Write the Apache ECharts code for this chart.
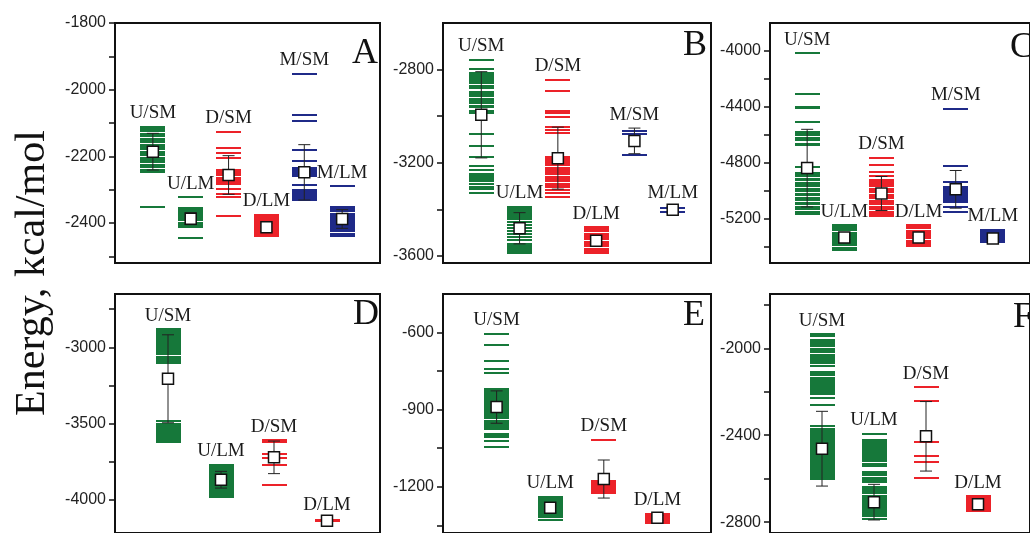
<!DOCTYPE html>
<html>
<head>
<meta charset="utf-8">
<script src="https://cdn.jsdelivr.net/npm/echarts@6/dist/echarts.min.js"></script>
<style>
  html, body { margin: 0; padding: 0; background: #fff; }
  #chart { width: 1030px; height: 533px; }
</style>
</head>
<body>
<div id="chart"></div>
<script>
// Category names (panels D-F use the first four)
const categories = ['U/SM', 'U/LM', 'D/SM', 'D/LM', 'M/SM', 'M/LM'];

// ---- Panel A: individual energies, mean and standard deviation per category
const levelsA = [
  [-2111,-2115,-2119,-2123,-2132,-2136,-2140,-2149,-2153,-2157,-2166,-2170,-2174,-2178,-2187,-2191,-2195,-2204,-2208,-2212,-2216,-2225,-2229,-2233,-2242,-2246,-2352],
  [-2323,-2356,-2360,-2364,-2368,-2372,-2376,-2380,-2384,-2388,-2392,-2401,-2405,-2409,-2413,-2445],
  [-2127,-2175,-2190,-2205,-2240,-2244,-2248,-2252,-2256,-2264,-2268,-2272,-2276,-2280,-2284,-2298,-2312,-2323,-2378],
  [-2376,-2380,-2384,-2388,-2392,-2396,-2404,-2408,-2412,-2416,-2420,-2428,-2432,-2436,-2440],
  [-1952,-2077,-2095,-2180,-2214,-2236,-2240,-2244,-2248,-2252,-2256,-2260,-2285,-2300,-2304,-2310,-2316,-2320,-2326,-2330],
  [-2290,-2352,-2356,-2360,-2364,-2372,-2376,-2380,-2384,-2388,-2392,-2396,-2404,-2408,-2412,-2416,-2420,-2424,-2432,-2436,-2440]
];
const meansA = [-2186, -2387, -2256, -2413, -2248, -2388];
const sdA = [55, 18, 58, 12, 83, 28];
const ticksA = [-1800, -1900, -2000, -2100, -2200, -2300, -2400, -2500];
const tickLabelsA = [-1800, -2000, -2200, -2400];

// ---- Panel B
const levelsB = [
  [-2757,-2796,-2814,-2820,-2826,-2832,-2838,-2844,-2850,-2856,-2869,-2875,-2881,-2894,-2900,-2906,-2912,-2925,-2931,-2937,-2943,-2956,-2962,-2976,-2986,-3077,-3130,-3176,-3213,-3230,-3247,-3253,-3259,-3265,-3271,-3277,-3290,-3302,-3313,-3328],
  [-3388,-3394,-3400,-3406,-3412,-3418,-3424,-3430,-3436,-3442,-3452,-3465,-3478,-3491,-3504,-3517,-3530,-3548,-3554,-3560,-3566,-3572,-3578,-3584,-3588],
  [-2843,-2890,-2979,-2988,-3003,-3046,-3058,-3070,-3173,-3179,-3185,-3191,-3197,-3203,-3209,-3222,-3228,-3234,-3240,-3246,-3259,-3265,-3271,-3277,-3290,-3296,-3302,-3316,-3330,-3345],
  [-3476,-3482,-3488,-3494,-3507,-3513,-3519,-3525,-3538,-3544,-3550,-3556,-3569,-3575,-3581,-3587],
  [-3062,-3078,-3168],
  [-3393,-3411]
];
const meansB = [-2994, -3481, -3180, -3534, -3106, -3402];
const sdB = [185, 67, 133, 10, 55, 14];
const ticksB = [-2800, -3000, -3200, -3400, -3600];
const tickLabelsB = [-2800, -3200, -3600];

// ---- Panel C
const levelsC = [
  [-4017,-4311,-4400,-4412,-4508,-4580,-4590,-4600,-4622,-4632,-4642,-4664,-4674,-4832,-4876,-4886,-4896,-4918,-4928,-4950,-4960,-4970,-4992,-5002,-5024,-5034,-5056,-5066,-5088,-5098,-5120,-5130,-5152,-5166],
  [-5250,-5260,-5270,-5280,-5302,-5312,-5322,-5332,-5342,-5352,-5362,-5372,-5382,-5392,-5414,-5424],
  [-4766,-4815,-4868,-4893,-4925,-4935,-4945,-4955,-4965,-4990,-5000,-5010,-5032,-5042,-5052,-5074,-5084,-5094,-5116,-5126,-5136,-5158,-5168,-5180],
  [-5250,-5260,-5270,-5292,-5302,-5312,-5322,-5332,-5342,-5364,-5374,-5384,-5396],
  [-4415,-4828,-4936,-4972,-4982,-4992,-5002,-5012,-5022,-5032,-5042,-5052,-5062,-5072,-5080,-5121,-5157],
  [-5280,-5290,-5300,-5310,-5320,-5330,-5340,-5350,-5360,-5372]
];
const meansC = [-4840, -5337, -5022, -5337, -4992, -5344];
const sdC = [278, 15, 122, 15, 135, 30];
const ticksC = [-4000, -4200, -4400, -4600, -4800, -5000, -5200, -5400];
const tickLabelsC = [-4000, -4400, -4800, -5200];

// ---- Panel D
const levelsD = [
  [-2882,-2895,-2905,-2915,-2925,-2935,-2945,-2955,-2965,-2975,-2985,-2995,-3005,-3015,-3025,-3035,-3045,-3065,-3075,-3090,-3106,-3487,-3505,-3515,-3525,-3535,-3545,-3555,-3565,-3575,-3585,-3595,-3605,-3615,-3625],
  [-3772,-3782,-3792,-3802,-3812,-3822,-3832,-3842,-3852,-3862,-3872,-3882,-3892,-3902,-3912,-3922,-3932,-3942,-3952,-3962,-3972,-3982],
  [-3612,-3620,-3703,-3725,-3775,-3906],
  [-4136,-4144]
];
const meansD = [-3207, -3870, -3723, -4140];
const sdD = [289, 55, 107, 15];
const ticksD = [-2750, -3000, -3250, -3500, -3750, -4000];
const tickLabelsD = [-3000, -3500, -4000];

// ---- Panel E
const levelsE = [
  [-604,-649,-710,-740,-758,-818,-824,-830,-836,-842,-848,-854,-860,-866,-872,-878,-884,-890,-896,-902,-908,-914,-920,-926,-932,-944,-950,-956,-962,-968,-974,-994,-1000,-1006,-1022,-1046],
  [-1238,-1244,-1250,-1256,-1262,-1268,-1274,-1280,-1286,-1292,-1298,-1304,-1310,-1316,-1328],
  [-1018,-1176,-1184,-1192,-1200,-1208,-1216,-1224],
  [-1305,-1311,-1317,-1323,-1329,-1335,-1341]
];
const meansE = [-890, -1282, -1170, -1321];
const sdE = [63, 18, 74, 10];
const ticksE = [-600, -750, -900, -1050, -1200, -1350];
const tickLabelsE = [-600, -900, -1200];

// ---- Panel F
const levelsF = [
  [-1935,-1945,-1962,-1969,-1976,-1983,-1990,-2004,-2011,-2018,-2032,-2039,-2046,-2053,-2060,-2067,-2083,-2109,-2116,-2123,-2137,-2144,-2151,-2158,-2165,-2172,-2179,-2186,-2193,-2200,-2208,-2230,-2260,-2357,-2371,-2379,-2387,-2395,-2403,-2411,-2419,-2427,-2435,-2443,-2451,-2459,-2467,-2475,-2483,-2491,-2499,-2507,-2515,-2523,-2531,-2539,-2547,-2555,-2563,-2571,-2579,-2587,-2595,-2601],
  [-2394,-2421,-2429,-2437,-2445,-2453,-2461,-2469,-2477,-2485,-2493,-2501,-2509,-2517,-2531,-2541,-2568,-2576,-2584,-2598,-2606,-2614,-2640,-2648,-2656,-2664,-2678,-2686,-2694,-2702,-2710,-2718,-2726,-2734,-2742,-2750,-2758,-2766,-2774,-2784],
  [-2179,-2244,-2431,-2495,-2525,-2596],
  [-2680,-2688,-2696,-2704,-2712,-2720,-2728,-2736,-2744,-2750]
];
const meansF = [-2462, -2708, -2405, -2718];
const sdF = [172, 82, 160, 12];
const ticksF = [-1800, -2000, -2200, -2400, -2600, -2800];
const tickLabelsF = [-2000, -2400, -2800];

// Colour by the first letter of the category (U, D, M)
const groupColors = { U: '#16783a', D: '#ec2229', M: '#1f2a88' };
const colorOf = name => groupColors[name.charAt(0)];

const panels = [
  { letter: 'A', levels: levelsA, means: meansA, sd: sdA, ticks: ticksA, tickLabels: tickLabelsA, min: -2520, max: -1800,
    grid: { left: 115, top: 23, width: 265, height: 240 }, lx: 352, ly: 54 },
  { letter: 'B', levels: levelsB, means: meansB, sd: sdB, ticks: ticksB, tickLabels: tickLabelsB, min: -3630, max: -2600,
    grid: { left: 443, top: 23, width: 268, height: 240 }, lx: 683, ly: 46 },
  { letter: 'C', levels: levelsC, means: meansC, sd: sdC, ticks: ticksC, tickLabels: tickLabelsC, min: -5520, max: -3800,
    grid: { left: 770, top: 23, width: 266, height: 240 }, lx: 1010, ly: 48 },
  { letter: 'D', levels: levelsD, means: meansD, sd: sdD, ticks: ticksD, tickLabels: tickLabelsD, min: -4220, max: -2650,
    grid: { left: 115, top: 294, width: 265, height: 240 }, lx: 353, ly: 315 },
  { letter: 'E', levels: levelsE, means: meansE, sd: sdE, ticks: ticksE, tickLabels: tickLabelsE, min: -1380, max: -450,
    grid: { left: 443, top: 294, width: 268, height: 240 }, lx: 683, ly: 316 },
  { letter: 'F', levels: levelsF, means: meansF, sd: sdF, ticks: ticksF, tickLabels: tickLabelsF, min: -2850, max: -1750,
    grid: { left: 770, top: 294, width: 298, height: 240 }, lx: 1013, ly: 318 }
];

const LEVEL_HALF = 12.5;   // half width of an energy level, px
const LEVEL_THICK = 2;     // thickness of an energy level, px
const CAP_HALF = 6;        // half width of an error-bar cap, px
const serif = '"Liberation Serif", "DejaVu Serif", serif';
const sans = '"Liberation Sans", Arial, sans-serif';

const grids = [], xAxes = [], yAxes = [], series = [], graphics = [];

panels.forEach((p, k) => {
  const n = p.levels.length;
  grids.push(Object.assign({ show: true, borderColor: '#111', borderWidth: 2, backgroundColor: 'transparent' }, p.grid));
  xAxes.push({ gridIndex: k, type: 'value', min: 0, max: n + 1, show: false });
  yAxes.push({
    gridIndex: k, type: 'value', min: p.min, max: p.max,
    axisLine: { show: false },
    splitLine: { show: false },
    axisTick: { show: true, inside: false, length: 6, lineStyle: { color: '#111', width: 1.5 }, customValues: p.ticks },
    axisLabel: { customValues: p.tickLabels, formatter: v => String(v), fontFamily: sans, fontSize: 16, color: '#222', margin: 9 }
  });

  // energy levels: one short horizontal bar per value
  const levelData = [];
  p.levels.forEach((vals, i) => vals.forEach(v => levelData.push([i + 1, v, i])));
  series.push({
    type: 'custom', xAxisIndex: k, yAxisIndex: k, data: levelData, clip: true,
    renderItem: (params, api) => {
      const c = api.coord([api.value(0), api.value(1)]);
      const y = Math.round(c[1]) - LEVEL_THICK / 2;
      return {
        type: 'rect',
        shape: { x: Math.round(c[0] - LEVEL_HALF), y: y, width: LEVEL_HALF * 2, height: LEVEL_THICK },
        style: { fill: colorOf(categories[api.value(2)]) }
      };
    }
  });

  // error bars: mean ± sd
  const errData = p.means.map((m, i) => [i + 1, m + p.sd[i], m - p.sd[i]]);
  series.push({
    type: 'custom', xAxisIndex: k, yAxisIndex: k, data: errData, z: 3,
    renderItem: (params, api) => {
      const top = api.coord([api.value(0), api.value(1)]);
      const bot = api.coord([api.value(0), api.value(2)]);
      const st = { stroke: '#222', lineWidth: 1 };
      return {
        type: 'group',
        children: [
          { type: 'line', shape: { x1: top[0], y1: top[1], x2: bot[0], y2: bot[1] }, style: st },
          { type: 'line', shape: { x1: top[0] - CAP_HALF, y1: top[1], x2: top[0] + CAP_HALF, y2: top[1] }, style: st },
          { type: 'line', shape: { x1: bot[0] - CAP_HALF, y1: bot[1], x2: bot[0] + CAP_HALF, y2: bot[1] }, style: st }
        ]
      };
    }
  });

  // mean values
  series.push({
    type: 'scatter', xAxisIndex: k, yAxisIndex: k, z: 4,
    data: p.means.map((m, i) => [i + 1, m]),
    symbol: 'rect', symbolSize: 11,
    itemStyle: { color: '#fff', borderColor: '#111', borderWidth: 1.5, opacity: 1 }
  });

  // category names above the highest mark of each category
  const nameData = p.levels.map((vals, i) => [i + 1, Math.max(Math.max(...vals), p.means[i] + p.sd[i]), i]);
  series.push({
    type: 'custom', xAxisIndex: k, yAxisIndex: k, data: nameData, z: 5, clip: false,
    renderItem: (params, api) => {
      const c = api.coord([api.value(0), api.value(1)]);
      return {
        type: 'text', x: c[0], y: c[1] - 4,
        style: { text: categories[api.value(2)], align: 'center', verticalAlign: 'bottom',
                 fontFamily: serif, fontSize: 19, fill: '#1a1a1a' }
      };
    }
  });

  // panel letter
  graphics.push({
    type: 'text', x: p.lx, y: p.ly, z: 10,
    style: { text: p.letter, fontFamily: serif, fontSize: 36, fill: '#111', align: 'left', verticalAlign: 'middle' }
  });
});

// shared vertical axis title
graphics.push({
  type: 'text', x: 33, y: 273, rotation: Math.PI / 2, z: 10,
  style: { text: 'Energy, kcal/mol', fontFamily: serif, fontSize: 42, fill: '#111', align: 'center', verticalAlign: 'middle' }
});

const chart = echarts.init(document.getElementById('chart'), null, { renderer: 'canvas' });
chart.setOption({
  backgroundColor: '#fff',
  animation: false,
  grid: grids,
  xAxis: xAxes,
  yAxis: yAxes,
  series: series,
  graphic: { elements: graphics }
});
</script>
</body>
</html>
